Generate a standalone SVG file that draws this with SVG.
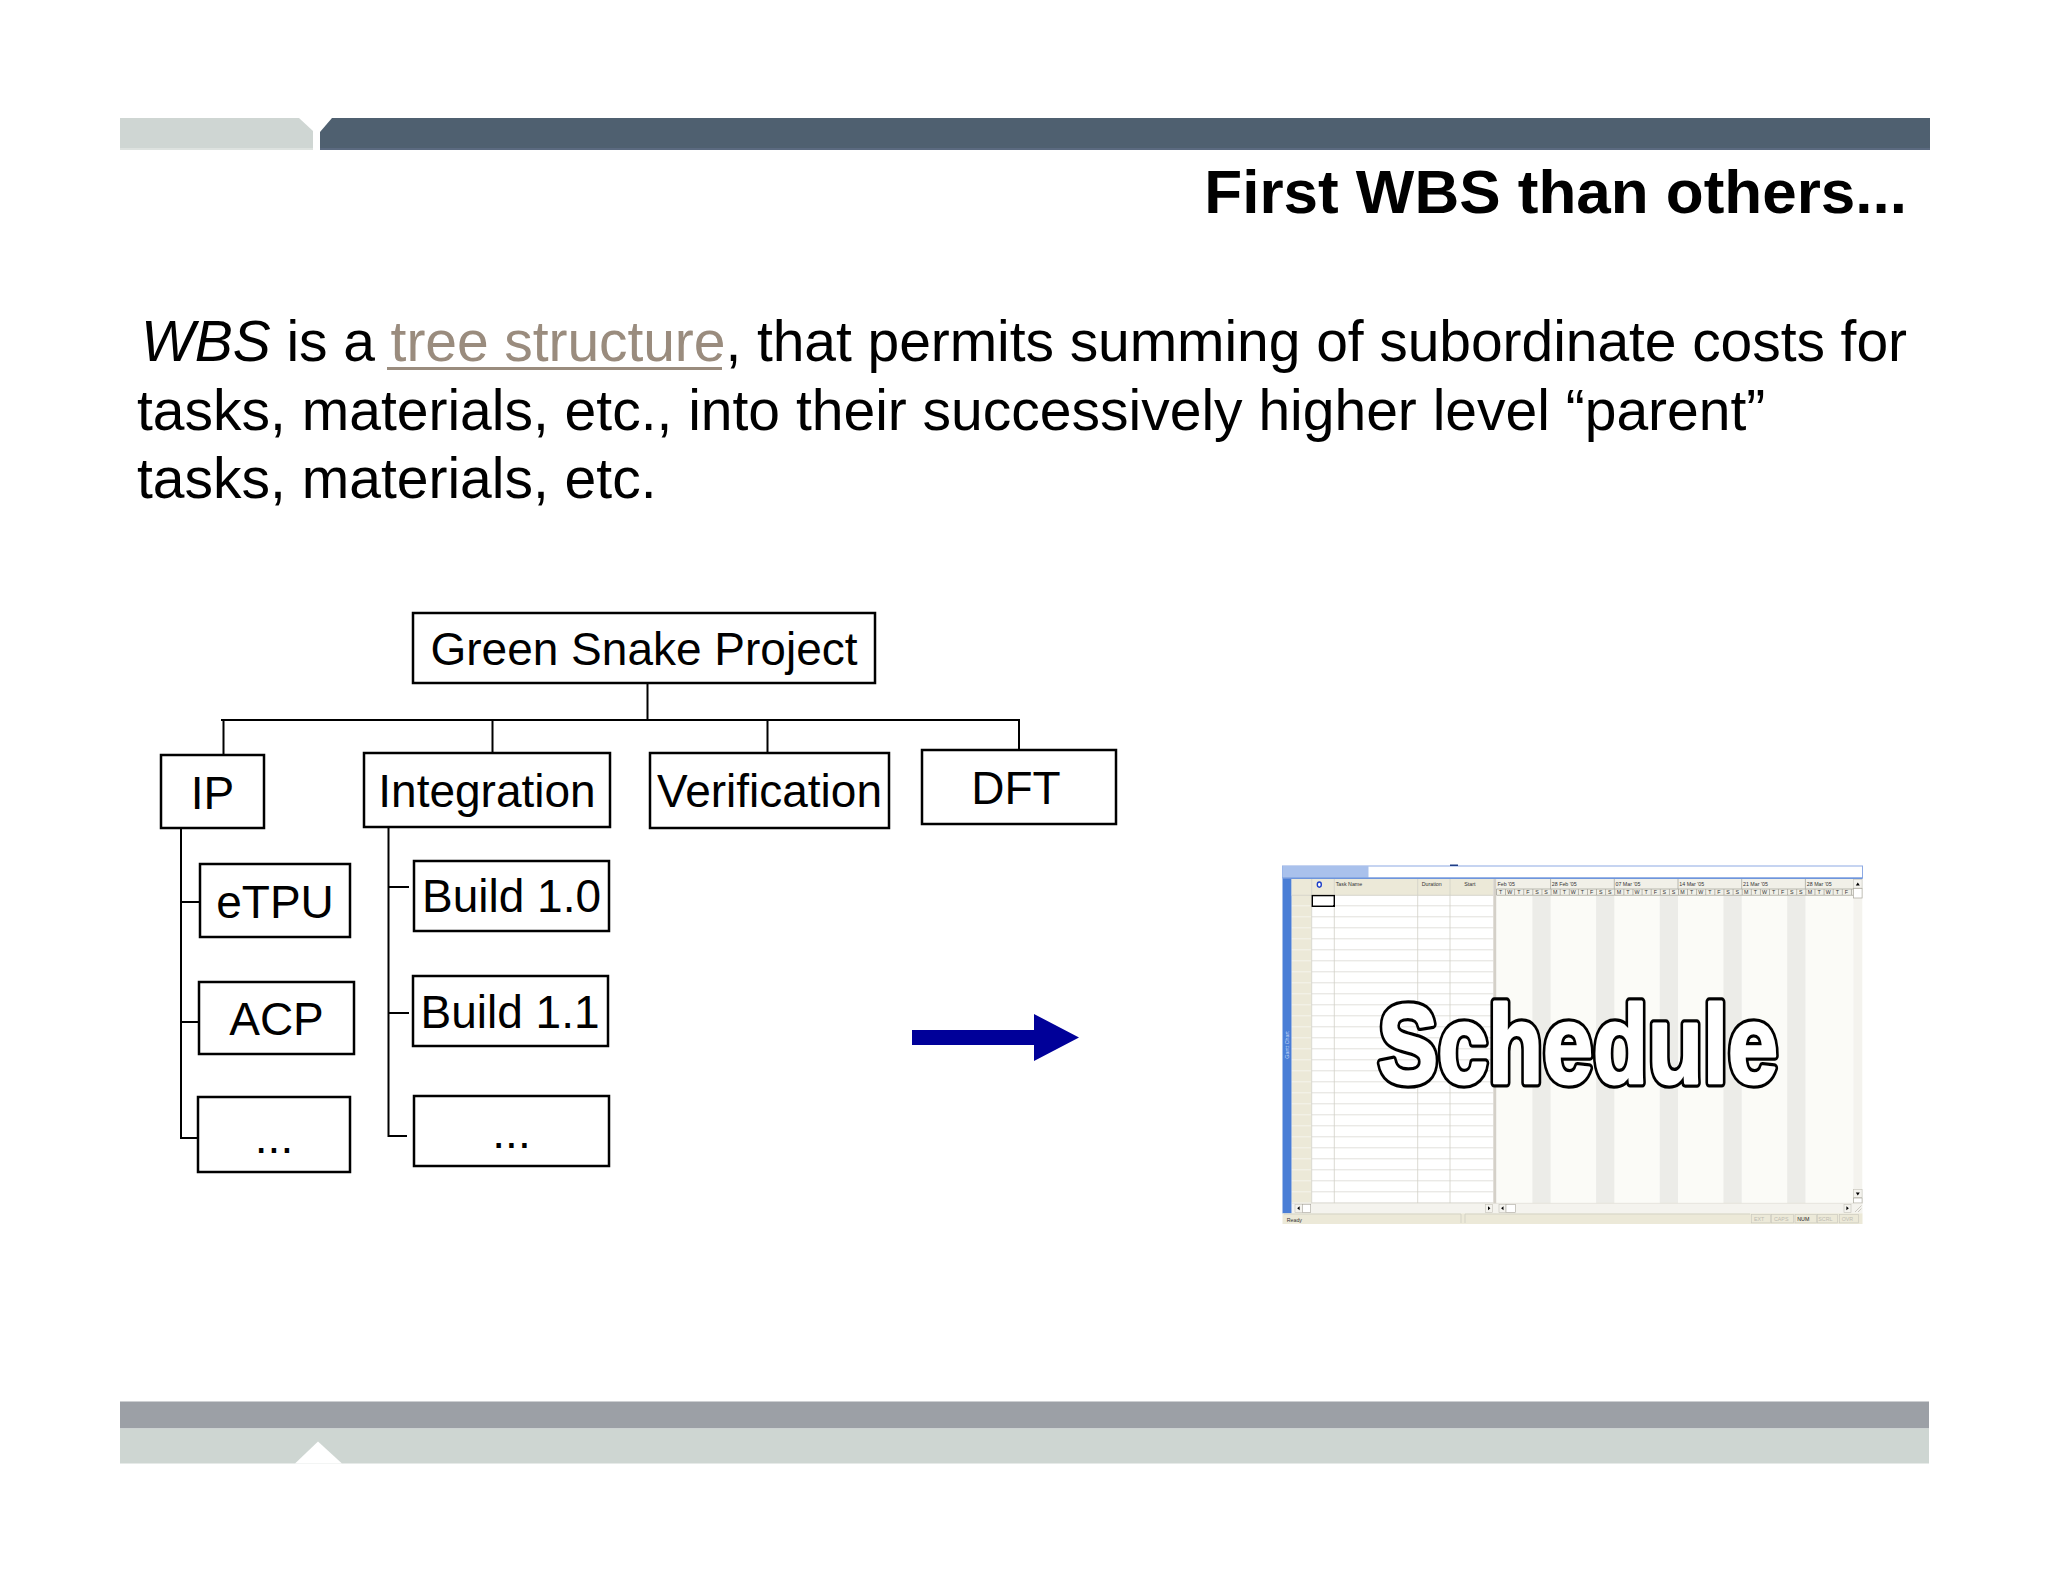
<svg xmlns="http://www.w3.org/2000/svg" width="2048" height="1582" viewBox="0 0 2048 1582">
<style>
.f{font-family:'Liberation Sans',Arial,Helvetica,sans-serif}
.box{fill:#fff;stroke:#000;stroke-width:2.5}
.lbl{font-family:'Liberation Sans',Arial,Helvetica,sans-serif;font-size:46px;fill:#000;text-anchor:middle}
.con{fill:none;stroke:#000;stroke-width:2}
.tiny{font-family:'Liberation Sans',Arial,Helvetica,sans-serif;font-size:5.3px;fill:#333}
.cl{stroke:#D2D0C6;stroke-width:0.8;fill:none}
.sb{fill:#F4F3EE;stroke:#C4C2B8;stroke-width:0.6}
.pn{fill:none;stroke:#C8C6BC;stroke-width:0.6}
.big{font-family:'Liberation Sans',Arial,Helvetica,sans-serif;font-size:111px;font-weight:bold;text-anchor:middle;stroke-linejoin:round}
</style>
<defs>
<pattern id="trow" patternUnits="userSpaceOnUse" x="0" y="895.3" width="40" height="11"><rect width="40" height="11" fill="#FFFFFF"/><rect y="10.2" width="40" height="0.9" fill="#DAD9D2"/></pattern>
<pattern id="hrow" patternUnits="userSpaceOnUse" x="0" y="895.3" width="40" height="11"><rect width="40" height="11" fill="#ECE9D8"/><rect y="10.2" width="40" height="0.9" fill="#F8F7F1"/></pattern>
<pattern id="days" patternUnits="userSpaceOnUse" x="1496" y="0" width="9.1" height="20"><rect width="0.8" height="20" fill="#A9A8A0"/></pattern>
</defs>
<rect width="2048" height="1582" fill="#fff"/>

<!-- header band -->
<polygon points="120,118 299,118 313,131 313,150 120,150" fill="#CFD6D3"/>
<polygon points="332,118 1930,118 1930,150 320,150 320,132" fill="#4F6070"/>
<rect x="320" y="148" width="1610" height="2" fill="#5B6A80"/>
<rect x="120" y="148" width="193" height="2" fill="#DDE2DF"/>
<text class="f" x="1907" y="213" font-size="62" font-weight="bold" text-anchor="end" fill="#000">First WBS than others...</text>

<!-- body text -->
<text class="f" x="141" y="361" font-size="57" fill="#000" textLength="1766" lengthAdjust="spacing"><tspan font-style="italic">WBS</tspan> is a <tspan fill="#9A8C7E">tree structure</tspan>, that permits summing of subordinate costs for</text>
<rect x="387" y="367" width="335" height="3" fill="#9A8C7E"/>
<text class="f" x="137" y="429.5" font-size="57" fill="#000">tasks, materials, etc., into their successively higher level “parent”</text>
<text class="f" x="137" y="498" font-size="57" fill="#000">tasks, materials, etc.</text>

<!-- connectors -->
<g id="connectors">
<path class="con" d="M647.5 683 V720 M221 720 H1020 M223.5 720 V755 M492.5 720 V753 M767.5 720 V753 M1019 720 V752"/>
<path class="con" d="M181 828 V1138 H199 M181 902 H200 M181 1022 H199"/>
<path class="con" d="M388.5 827 V1136 H407 M389 887 H409 M389 1013 H409"/>
</g>

<!-- nodes -->
<g id="node-gsp"><rect class="box" x="413" y="613" width="462" height="70"/><text class="lbl" x="644" y="665">Green Snake Project</text></g>
<g id="node-ip"><rect class="box" x="161" y="755" width="103" height="73"/><text class="lbl" x="212.5" y="809">IP</text></g>
<g id="node-integration"><rect class="box" x="364" y="753" width="246" height="74"/><text class="lbl" x="487" y="807">Integration</text></g>
<g id="node-verification"><rect class="box" x="650" y="753" width="239" height="75"/><text class="lbl" x="769.5" y="807">Verification</text></g>
<g id="node-dft"><rect class="box" x="922" y="750" width="194" height="74"/><text class="lbl" x="1016" y="804">DFT</text></g>
<g id="node-etpu"><rect class="box" x="200" y="864" width="150" height="73"/><text class="lbl" x="275" y="918">eTPU</text></g>
<g id="node-acp"><rect class="box" x="199" y="982" width="155" height="72"/><text class="lbl" x="276.5" y="1035">ACP</text></g>
<g id="node-ip-more"><rect class="box" x="198" y="1097" width="152" height="75"/><text class="lbl" x="274" y="1153">...</text></g>
<g id="node-build10"><rect class="box" x="414" y="861" width="195" height="70"/><text class="lbl" x="511.5" y="912">Build 1.0</text></g>
<g id="node-build11"><rect class="box" x="413" y="976" width="195" height="70"/><text class="lbl" x="510" y="1028">Build 1.1</text></g>
<g id="node-int-more"><rect class="box" x="414" y="1096" width="195" height="70"/><text class="lbl" x="511.5" y="1148">...</text></g>

<!-- arrow -->
<g id="arrow"><polygon points="912,1030 1034,1030 1034,1014 1079,1037.5 1034,1061 1034,1045 912,1045" fill="#000099"/></g>

<!-- schedule screenshot -->
<g id="schedule">
<rect x="1282.5" y="865" width="580" height="359" fill="#fff"/>
<rect x="1282.5" y="866" width="580" height="12" fill="#fff" stroke="#8DAAE4" stroke-width="1"/>
<rect x="1282.5" y="866" width="86" height="12" fill="#A9C1EC"/>
<rect x="1450" y="864.5" width="8" height="1.5" fill="#1F3E88"/>
<rect x="1282.5" y="877.5" width="580" height="1.5" fill="#6E95DC"/>
<rect x="1282.5" y="879" width="9.2" height="334.5" fill="#4A7ED6"/>
<text class="f" transform="translate(1289.2 1045) rotate(-90)" font-size="5.3" fill="#C9DAF7" text-anchor="middle">Gantt Chart</text>
<rect x="1291.7" y="879" width="20" height="324.3" fill="url(#hrow)"/>
<rect x="1291.7" y="879" width="20" height="16.3" fill="#ECE9D8"/>
<rect x="1311.7" y="895.3" width="181.6" height="308" fill="url(#trow)"/>
<rect x="1311.7" y="879" width="181.6" height="16.3" fill="#ECE9D8"/>
<path class="cl" d="M1311.7 879 V1203.3 M1334.3 879 V1203.3 M1417.7 879 V1203.3 M1450 879 V1203.3 M1291.7 895.3 H1493.3"/>
<rect x="1312.3" y="895.6" width="22" height="10.7" fill="none" stroke="#000" stroke-width="1.4"/>
<rect x="1333" y="905" width="2" height="2" fill="#000"/>
<ellipse cx="1319.3" cy="884.6" rx="2" ry="2.6" fill="#fff" stroke="#1D3FC9" stroke-width="1.4"/>
<text class="tiny" x="1335.7" y="886">Task Name</text>
<text class="tiny" x="1421.7" y="886">Duration</text>
<text class="tiny" x="1464.3" y="886">Start</text>
<rect x="1493.3" y="879" width="3.2" height="334.3" fill="#D4D0C8"/>
<rect x="1496.5" y="879" width="356.8" height="16.3" fill="#F1F0E8"/>
<rect x="1496.5" y="895.3" width="356.8" height="308" fill="#FBFBF7"/>
<g fill="#ECECE8">
<rect x="1532.4" y="895.3" width="18.2" height="308"/>
<rect x="1596.1" y="895.3" width="18.2" height="308"/>
<rect x="1659.8" y="895.3" width="18.2" height="308"/>
<rect x="1723.5" y="895.3" width="18.2" height="308"/>
<rect x="1787.2" y="895.3" width="18.2" height="308"/>
</g>
<rect x="1496" y="889" width="357" height="6" fill="url(#days)"/>
<path d="M1496.5 889 H1853.3 M1496.5 895.3 H1853.3 M1550.6 879 V889 M1614.3 879 V889 M1678 879 V889 M1741.7 879 V889 M1805.4 879 V889" stroke="#A9A8A0" stroke-width="0.8" fill="none"/>
<text class="tiny" y="885.5"><tspan x="1497.5">Feb '05</tspan><tspan x="1551.8">28 Feb '05</tspan><tspan x="1615.5">07 Mar '05</tspan><tspan x="1679.3">14 Mar '05</tspan><tspan x="1743">21 Mar '05</tspan><tspan x="1806.8">28 Mar '05</tspan></text>
<text class="tiny" y="893.6" font-size="4.6" text-anchor="middle" x="1500.55 1509.65 1518.75 1527.85 1536.95 1546.05 1555.15 1564.25 1573.35 1582.45 1591.55 1600.65 1609.75 1618.85 1627.95 1637.05 1646.15 1655.25 1664.35 1673.45 1682.55 1691.65 1700.75 1709.85 1718.95 1728.05 1737.15 1746.25 1755.35 1764.45 1773.55 1782.65 1791.75 1800.85 1809.95 1819.05 1828.15 1837.25 1846.35">TWTFSSMTWTFSSMTWTFSSMTWTFSSMTWTFSSMTWTF</text>
<!-- vertical scrollbar -->
<rect x="1853.3" y="879" width="9" height="324.3" fill="#F4F3EE"/>
<rect class="sb" x="1853.5" y="879.3" width="8.6" height="8.8"/>
<polygon points="1855.8,885.6 1857.8,882.4 1859.8,885.6" fill="#000"/>
<rect x="1853.5" y="888.5" width="8.6" height="9.5" fill="#fff" stroke="#A8A69C" stroke-width="0.7"/>
<rect class="sb" x="1853.5" y="1189.5" width="8.6" height="8.2"/>
<polygon points="1855.8,1192.4 1859.8,1192.4 1857.8,1195.4" fill="#000"/>
<rect x="1853.5" y="1198" width="8.6" height="5" fill="#fff" stroke="#A8A69C" stroke-width="0.7"/>
<!-- horizontal scroll row -->
<rect x="1291.7" y="1203.3" width="570.8" height="10" fill="#F4F3EE"/>
<path d="M1291.7 1203.3 H1862.5" stroke="#D8D6CC" stroke-width="0.6"/>
<rect class="sb" x="1295" y="1204.3" width="7.3" height="8"/>
<polygon points="1299.6,1206.3 1299.6,1210.3 1297.2,1208.3" fill="#000"/>
<rect x="1302.3" y="1204.3" width="8.4" height="8" fill="#fff" stroke="#A8A69C" stroke-width="0.6"/>
<rect class="sb" x="1485.5" y="1204.3" width="7" height="8"/>
<polygon points="1488,1206.3 1488,1210.3 1490.4,1208.3" fill="#000"/>
<rect class="sb" x="1499" y="1204.3" width="7" height="8"/>
<polygon points="1503.5,1206.3 1503.5,1210.3 1501.1,1208.3" fill="#000"/>
<rect x="1506" y="1204.3" width="9.5" height="8" fill="#fff" stroke="#A8A69C" stroke-width="0.6"/>
<rect class="sb" x="1844" y="1204.3" width="7" height="8"/>
<polygon points="1846.4,1206.3 1846.4,1210.3 1848.8,1208.3" fill="#000"/>
<path d="M1855 1212 L1861.5 1205.5 M1858 1212 L1861.5 1208.5" stroke="#B0AEA4" stroke-width="0.6"/>
<!-- status bar -->
<rect x="1282.5" y="1213.3" width="580" height="10.7" fill="#ECE9D8"/>
<path d="M1284 1214 H1461 V1223 M1465 1223 V1214 H1750" class="pn"/>
<text class="tiny" x="1286.7" y="1221.5">Ready</text>
<rect class="pn" x="1751.7" y="1214.3" width="19" height="8.6"/>
<rect class="pn" x="1771.7" y="1214.3" width="21.6" height="8.6"/>
<rect class="pn" x="1795" y="1214.3" width="21.7" height="8.6"/>
<rect class="pn" x="1817.3" y="1214.3" width="20" height="8.6"/>
<rect class="pn" x="1839.3" y="1214.3" width="19" height="8.6"/>
<text class="tiny" y="1220.8" fill="#BDBBB2"><tspan x="1754" fill="#BDBBB2">EXT</tspan><tspan x="1774" fill="#BDBBB2">CAPS</tspan><tspan x="1797.3" fill="#222">NUM</tspan><tspan x="1818.3" fill="#BDBBB2">SCRL</tspan><tspan x="1841.7" fill="#BDBBB2">OVR</tspan></text>
<!-- overlay word: black outline under a widened white body -->
<text class="big" x="1578" y="1083" textLength="400" lengthAdjust="spacingAndGlyphs" fill="#000" stroke="#000" stroke-width="9.5">Schedule</text>
<text class="big" x="1578" y="1083" textLength="400" lengthAdjust="spacingAndGlyphs" fill="#fff" stroke="#fff" stroke-width="3">Schedule</text>
</g>

<!-- footer band -->
<rect x="120" y="1401.5" width="1809" height="27" fill="#9CA0A6"/>
<rect x="120" y="1428.5" width="1809" height="35" fill="#CED6D2"/>
<polygon points="295,1463.5 318,1441.5 342,1463.5" fill="#fff"/>
</svg>
